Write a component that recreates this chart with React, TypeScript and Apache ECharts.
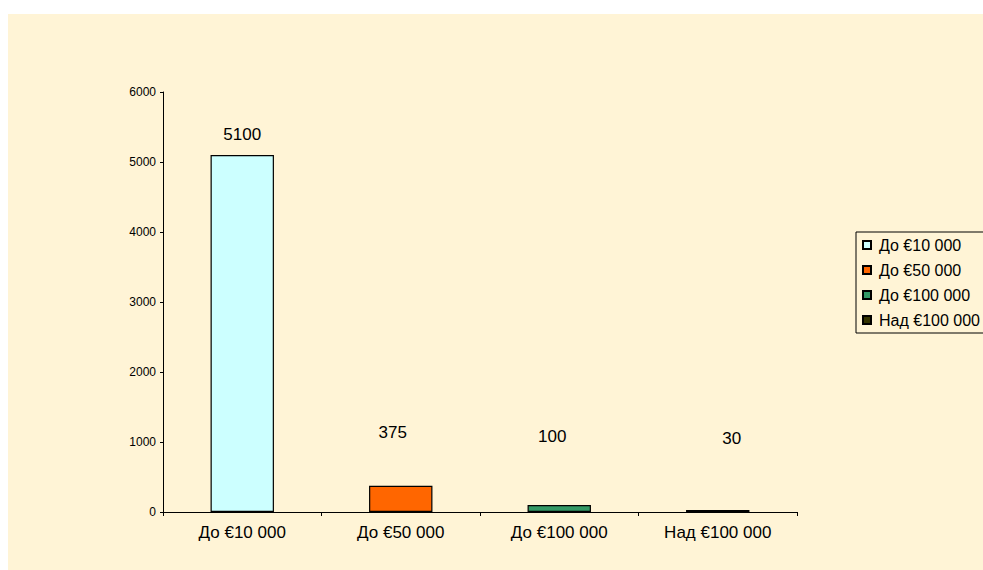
import React, { useEffect, useRef } from "react";
import * as echarts from "echarts";

const categories = ["До €10 000", "До €50 000", "До €100 000", "Над €100 000"];
const values = [5100, 375, 100, 30];
const colors = ["#CCFFFF", "#FF6600", "#339966", "#333300"];
const labelDistances = [12, 45, 60, 63];
const labelShiftX = [0, -8, -7, 14];
const yTicks = { min: 0, max: 6000, interval: 1000 };

export default function App() {
  const ref = useRef<HTMLDivElement>(null);
  useEffect(() => {
    if (!ref.current) return;
    const chart = echarts.init(ref.current, undefined, { renderer: "svg" });
    const font = "Arial, 'Liberation Sans', sans-serif";
    const series = categories.map((name, i) => ({
      type: "bar",
      name,
      barGap: "-100%",
      barWidth: "40%",
      itemStyle: { color: colors[i], borderColor: "#000", borderWidth: 1.2 },
      data: values.map((v, j) =>
        j === i
          ? {
              value: v,
              label: {
                show: true,
                position: "top",
                distance: labelDistances[i],
                offset: [labelShiftX[i], 0],
                color: "#000",
                fontSize: 17,
                fontFamily: font,
              },
            }
          : "-"
      ),
    }));
    chart.setOption({
      animation: false,
      backgroundColor: "transparent",
      graphic: [
        {
          type: "rect",
          z: -10,
          silent: true,
          shape: { x: 8, y: 14, width: 975, height: 556 },
          style: { fill: "#FFF4D6" },
        },
      ],
      grid: { left: 163, right: 186, top: 92, bottom: 58, containLabel: false },
      legend: {
        orient: "vertical",
        left: 856,
        top: 232,
        padding: [5, 6, 5, 6],
        itemGap: 9,
        itemWidth: 8,
        itemHeight: 8,
        icon: "rect",
        borderColor: "#000",
        borderWidth: 1,
        backgroundColor: "#FFF4D6",
        textStyle: { fontSize: 16, color: "#000", fontFamily: font, padding: [0, 0, 0, 3] },
        data: categories,
      },
      xAxis: {
        type: "category",
        data: categories,
        axisLine: { lineStyle: { color: "#000", width: 1 } },
        axisTick: { show: true, length: 4, inside: false, lineStyle: { color: "#000" } },
        axisLabel: { color: "#000", fontSize: 17, fontFamily: font, margin: 12 },
        splitLine: { show: false },
      },
      yAxis: {
        type: "value",
        min: yTicks.min,
        max: yTicks.max,
        interval: yTicks.interval,
        axisLine: { show: true, lineStyle: { color: "#000", width: 1 } },
        axisTick: { show: true, length: 3, lineStyle: { color: "#000" } },
        axisLabel: {
          color: "#000",
          fontSize: 12,
          fontFamily: font,
          margin: 7,
          formatter: (v: number) => String(v),
        },
        splitLine: { show: false },
      },
      series,
    });
    return () => chart.dispose();
  }, []);
  return (
    <div
      ref={ref}
      style={{ position: "absolute", left: 0, top: 0, width: 983, height: 570 }}
    />
  );
}
